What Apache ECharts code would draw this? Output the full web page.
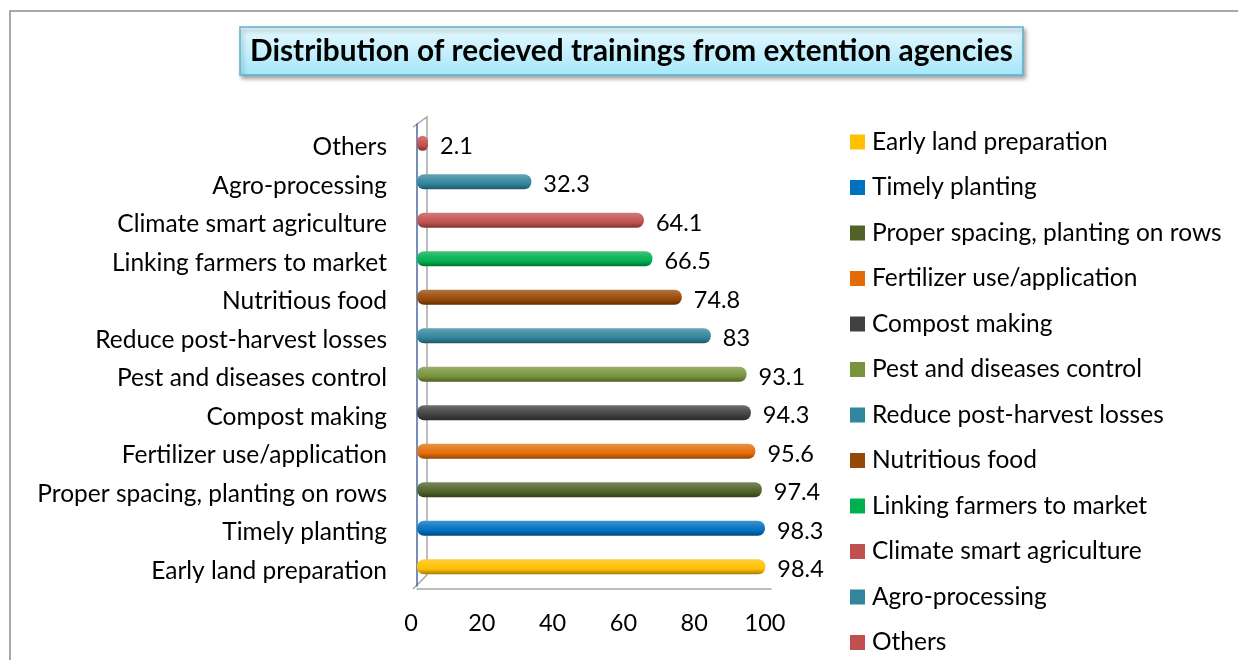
<!DOCTYPE html>
<html>
<head>
<meta charset="utf-8">
<script src="https://cdn.jsdelivr.net/npm/echarts@6/dist/echarts.min.js"></script>
<style>
html,body{margin:0;padding:0;background:#fff;}
#chart{width:1238px;height:660px;}
</style>
</head>
<body>
<div id="chart"></div>
<script>
// ---- data ----
const categories = [
  'Early land preparation',
  'Timely planting',
  'Proper spacing, planting on rows',
  'Fertilizer use/application',
  'Compost making',
  'Pest and diseases control',
  'Reduce post-harvest losses',
  'Nutritious food',
  'Linking farmers to market',
  'Climate smart agriculture',
  'Agro-processing',
  'Others'
];
const values = [98.4, 98.3, 97.4, 95.6, 94.3, 93.1, 83, 74.8, 66.5, 64.1, 32.3, 2.1];
const colors = ['#FFC000','#0070C0','#4F6228','#E36C09','#404040','#77933C','#31859C','#974806','#00B050','#C0504D','#31859C','#C0504D'];
const xTicks = [0, 20, 40, 60, 80, 100];
const titleText = 'Distribution of recieved trainings from extention agencies';

// ---- helpers ----
function shade(hex, f) {
  const n = parseInt(hex.slice(1), 16);
  let r = (n >> 16) & 255, g = (n >> 8) & 255, b = n & 255;
  if (f >= 0) { r += (255 - r) * f; g += (255 - g) * f; b += (255 - b) * f; }
  else { r *= (1 + f); g *= (1 + f); b *= (1 + f); }
  return 'rgb(' + Math.round(r) + ',' + Math.round(g) + ',' + Math.round(b) + ')';
}
const FONT = 'Lato, "Open Sans", sans-serif';
const GRID = { left: 417, top: 124, width: 354, height: 462 };

const series = categories.map((name, i) => ({
  name: name,
  type: 'bar',
  stack: 'all',
  barWidth: 15,
  barMinHeight: 11,
  data: categories.map((c, j) => (j === i ? values[i] : '-')),
  itemStyle: {
    color: {
      type: 'linear', x: 0, y: 0, x2: 0, y2: 1,
      colorStops: [
        { offset: 0, color: shade(colors[i], 0.25) },
        { offset: 0.35, color: shade(colors[i], 0.1) },
        { offset: 0.65, color: colors[i] },
        { offset: 1, color: shade(colors[i], -0.35) }
      ]
    },
    borderRadius: 7
  },
  label: {
    show: true,
    position: 'right',
    distance: 12,
    offset: [0, 3],
    color: '#000',
    fontFamily: FONT,
    fontSize: 23.5,
    formatter: p => String(p.value)
  }
}));

const chart = echarts.init(document.getElementById('chart'));
const option = {
  backgroundColor: '#fff',
  animation: false,
  color: colors,
  title: {
    text: titleText,
    left: 240,
    top: 27,
    padding: [8, 10, 8, 10],
    backgroundColor: {
      type: 'linear', x: 0, y: 0, x2: 0, y2: 1,
      colorStops: [{ offset: 0, color: '#e6f9fe' }, { offset: 1, color: '#a6e6fb' }]
    },
    borderColor: '#5cb3cc',
    borderWidth: 1.5,
    shadowColor: 'rgba(0,0,0,0.35)',
    shadowBlur: 4,
    shadowOffsetX: 2,
    shadowOffsetY: 3,
    textStyle: { fontFamily: FONT, fontSize: 29.8, fontWeight: 'bold', color: '#000', lineHeight: 32 }
  },
  legend: {
    orient: 'vertical',
    left: 850,
    top: 129.5,
    padding: 0,
    itemWidth: 15,
    itemHeight: 15,
    itemGap: 20.5,
    icon: 'rect',
    data: categories.map((c, i) => ({ name: c, itemStyle: { color: colors[i] } })),
    textStyle: { fontFamily: FONT, fontSize: 24.5, color: '#000', lineHeight: 25, padding: [0, 0, 0, 2] },
    selectedMode: false
  },
  grid: GRID,
  xAxis: {
    type: 'value',
    min: xTicks[0],
    max: xTicks[xTicks.length - 1],
    interval: xTicks[1] - xTicks[0],
    offset: 3,
    axisLine: { show: true, lineStyle: { color: '#a6a6a6', width: 1.5 } },
    axisTick: { show: false },
    splitLine: { show: false },
    axisLabel: { margin: 22, color: '#000', fontFamily: FONT, fontSize: 23.5, padding: [0, 12, 0, 0],
      formatter: v => xTicks.includes(v) ? String(v) : '' }
  },
  yAxis: {
    type: 'category',
    data: categories,
    offset: 4,
    axisLine: { show: true, lineStyle: { color: '#4a6a9c', width: 1.5 } },
    axisTick: { show: false },
    axisLabel: { margin: 26, color: '#000', fontFamily: FONT, fontSize: 24.5, verticalAlign: 'top', lineHeight: 8 }
  },
  series: series
};
chart.setOption(option);

// decorative frame: outer border + 3D back wall of the plot
const gx = GRID.left, gy = GRID.top, gb = GRID.top + GRID.height;
chart.setOption({
  graphic: [
    { type: 'rect', shape: { x: 10, y: 11, width: 1250, height: 680 }, style: { fill: 'none', stroke: '#8c8c8c', lineWidth: 1.5 }, silent: true, z: -1 },
    { type: 'polyline', shape: { points: [[gx - 4, gy + 3], [gx + 10, gy - 7], [gx + 10, gb - 11], [gx - 4, gb + 3]] },
      style: { fill: 'none', stroke: '#a6a6a6', lineWidth: 1.5 }, silent: true, z: -1 }
  ]
});
</script>
</body>
</html>
